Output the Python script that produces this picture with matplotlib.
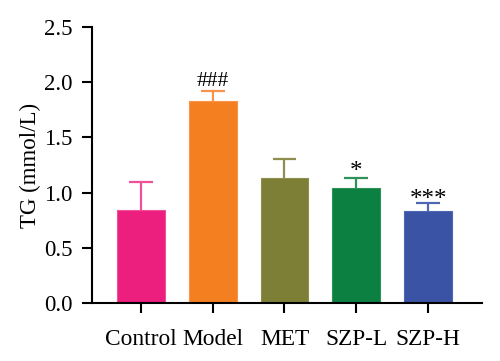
import matplotlib
matplotlib.use("Agg")
import matplotlib.pyplot as plt

categories = ["Control", "Model", "MET", "SZP-L", "SZP-H"]
means = [0.84, 1.83, 1.13, 1.045, 0.835]
errors = [0.26, 0.095, 0.175, 0.09, 0.07]
marks = ["", "###", "", "*", "***"]
colors = ["#EC1E7E", "#F47F21", "#7E7F36", "#0B8041", "#3A53A4"]
err_colors = ["#EE5197", "#F5944A", "#8E8F4E", "#2F9158", "#4E66B4"]
yticks = [0.0, 0.5, 1.0, 1.5, 2.0, 2.5]

plt.rcParams['font.family'] = ['Liberation Serif', 'DejaVu Serif']

fig = plt.figure(figsize=(5, 3.61), dpi=100)
ax = fig.add_axes([0.184, 0.1607, 0.78, 0.7643])

x = list(range(len(categories)))
bw = 0.667
for i in x:
    ax.bar(i, means[i], width=bw, color=colors[i], edgecolor=err_colors[i], linewidth=0.8, zorder=2)
    top = means[i] + errors[i]
    ax.vlines(i, means[i], top, colors=err_colors[i], linewidth=1.6, zorder=1)
    ax.hlines(top, i - bw / 4, i + bw / 4, colors=err_colors[i], linewidth=1.6, zorder=1)
    m = marks[i]
    if m.startswith("#"):
        ax.annotate(m, (i, top), xytext=(0, 3.6), textcoords='offset points',
                    ha='center', va='baseline', fontsize=15.5)
    elif m:
        off = -0.5 if len(m) == 1 else -1.8
        ax.annotate(m, (i, top), xytext=(0, off), textcoords='offset points',
                    ha='center', va='baseline', fontsize=18)

ax.set_xlim(-0.68, 4.75)
ax.set_ylim(0, 2.5)
ax.set_yticks(yticks)
ax.set_yticklabels([f"{v:.1f}" for v in yticks])
ax.set_xticks(x)
ax.set_xticklabels(categories)
ax.set_ylabel("TG (mmol/L)", fontsize=16.5, labelpad=2)
for s in ['top', 'right']:
    ax.spines[s].set_visible(False)
for s in ['left', 'bottom']:
    ax.spines[s].set_linewidth(1.5)
ax.tick_params(axis='both', direction='out', length=7, width=1.5)
ax.tick_params(axis='y', labelsize=16.5, pad=7)
ax.tick_params(axis='x', labelsize=16.8, pad=12)

fig.savefig("out.png", dpi=100)
